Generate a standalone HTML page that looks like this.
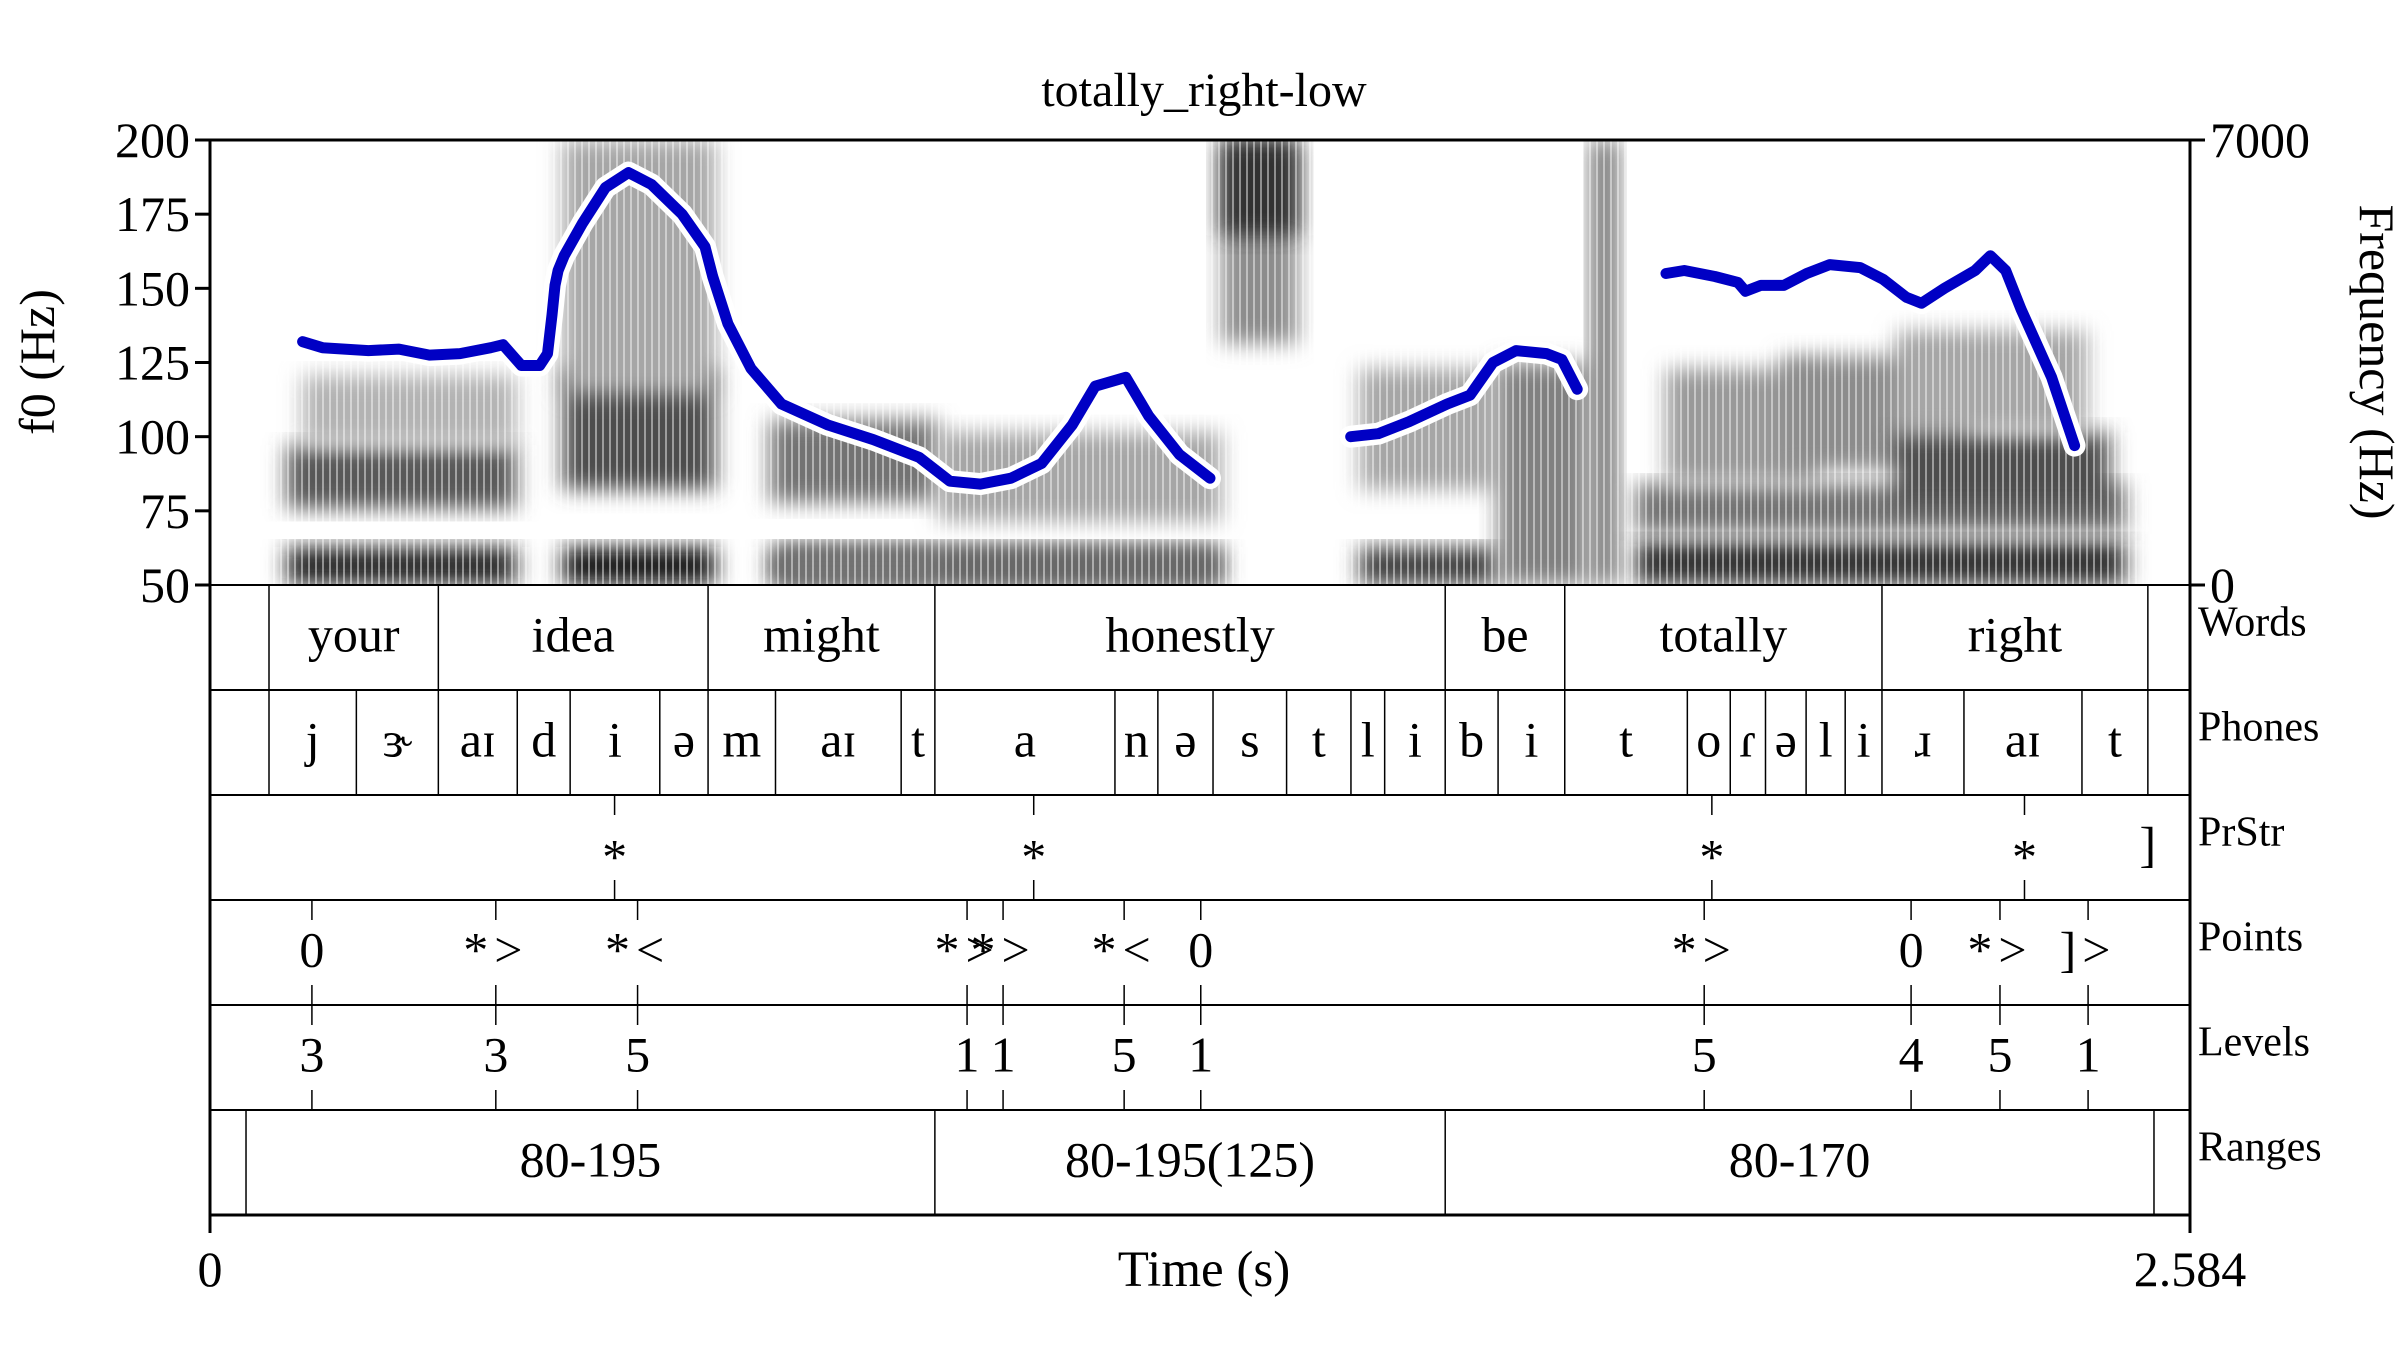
<!DOCTYPE html>
<html><head><meta charset="utf-8"><style>
html,body{margin:0;padding:0;background:#fff}
svg{display:block}
text{font-family:"Liberation Serif","DejaVu Serif",serif;fill:#000}
</style></head><body>
<svg id="chart" width="2400" height="1356" viewBox="0 0 2400 1356" xmlns="http://www.w3.org/2000/svg">
<defs>
<filter id="blur" x="-20%" y="-20%" width="140%" height="140%"><feGaussianBlur stdDeviation="11"/></filter>
<pattern id="stripes" width="7" height="10" patternUnits="userSpaceOnUse"><rect width="2" height="10" fill="#fff" opacity="0.45"/></pattern>
<clipPath id="specclip"><rect x="210" y="140" width="1980" height="445"/></clipPath>
</defs>
<g id="spec" clip-path="url(#specclip)"></g>
<g id="f0"></g>
<g id="tiers"></g>
<g id="axes"></g>
</svg>
<script>
// ---- data ----
const tMax = 2.584;
const f0Min = 50, f0Max = 200;
const f0Ticks = [50, 75, 100, 125, 150, 175, 200];
const f0SegTimes = [
 [0.1208,0.1468,0.2067,0.2466,0.2864,0.3262,0.3665,0.3824,0.4064,0.4303,0.4404,0.4463,0.4503,0.4543,0.4623,0.4863,0.5162,0.5462,0.5762,0.6161,0.646,0.656,0.676,0.7059,0.7459,0.8057,0.8657,0.9256,0.9656,1.0054,1.0454,1.0853,1.1253,1.1552,1.1952,1.2251,1.2651,1.305],
 [1.4887,1.5245,1.5646,1.6146,1.6445,1.6744,1.7044,1.7443,1.7643,1.7842],
 [1.9001,1.9241,1.9640,1.9940,2.0039,2.0239,2.0539,2.0838,2.1138,2.1537,2.1836,2.2136,2.2336,2.2636,2.3036,2.3235,2.3435,2.3634,2.4034,2.4334]
];
const f0SegValues = [
 [132,130,129,129.5,127.5,128,130,131,124,124,128,141,151,156,161,172,184,189,185,175,164,154,138,123,111,104,99,93,85,84,86,91,104,117,120,107,94,86],
 [100,101,105,111,114,125,129,128,126,116],
 [155,156,154,152,149,151,151,155,158,157,153,147,145,150,156,161,156,143,120,97]
];
const wordBounds = [0.077,0.298,0.650,0.946,1.612,1.768,2.182,2.529];
const wordLabels = ["your","idea","might","honestly","be","totally","right"];
const phoneBounds = [0.077,0.191,0.298,0.401,0.470,0.587,0.650,0.738,0.902,0.946,1.181,1.237,1.309,1.405,1.489,1.533,1.612,1.681,1.768,1.928,1.984,2.030,2.083,2.134,2.182,2.289,2.443,2.529];
const phoneLabels = ["j","ɝ","aɪ","d","i","ə","m","aɪ","t","a","n","ə","s","t","l","i","b","i","t","o","ɾ","ə","l","i","ɹ","aɪ","t"];
const prStrTimes = [0.528,1.075,1.960,2.368,2.529];
const prStrLabels = ["*","*","*","*","]"];
const pointTimes = [0.133,0.373,0.558,0.988,1.035,1.193,1.293,1.950,2.220,2.336,2.451];
const pointLabels = ["0","*>","*<","*>","*>","*<","0","*>","0","*>","]>"];
const levelLabels = ["3","3","5","1","1","5","1","5","4","5","1"];
const rangeBounds = [0.047,0.946,1.612,2.537];
const rangeLabels = ["80-195","80-195(125)","80-170"];
const tierNames = ["Words","Phones","PrStr","Points","Levels","Ranges"];
// spectrogram energy blobs: [t0, t1, f0 (kHz), f1 (kHz), darkness]
const specT0 = [0.10,0.10,0.12,0.46,0.46,0.46,0.73,0.73,0.74,0.95,0.95,1.32,1.32,1.50,1.50,1.68,1.80,1.86,1.86,1.90,2.05,2.20,2.20];
const specT1 = [0.40,0.40,0.40,0.66,0.66,0.66,0.95,0.95,1.32,1.32,1.32,1.42,1.42,1.68,1.68,1.80,1.84,2.50,2.50,2.10,2.30,2.48,2.45];
const specF0 = [0.0,1.2,2.2,0.0,1.5,3.0,0.0,1.3,0.0,0.0,1.0,3.8,5.5,0.0,1.5,0.0,0.0,0.0,0.8,1.6,1.8,1.2,2.4];
const specF1 = [0.6,2.2,3.3,0.6,3.4,7.0,0.6,2.6,0.6,0.6,2.4,7.0,7.0,0.6,3.4,3.5,7.0,0.7,1.6,3.4,3.6,2.4,4.0];
const specD = [0.85,0.65,0.3,0.9,0.7,0.35,0.7,0.55,0.55,0.6,0.35,0.45,0.8,0.75,0.35,0.5,0.5,0.8,0.55,0.4,0.45,0.7,0.35];

// ---- geometry ----
const L=210,R=2190,T=140,SB=585,rowH=105;
const xS = t => L + (t/tMax)*(R-L);
const yF = f => SB - (f-f0Min)/(f0Max-f0Min)*(SB-T);
const yK = k => SB - (k/7)*(SB-T);
const NS="http://www.w3.org/2000/svg";
function mk(tag, attrs, parent, txt){
  const e=document.createElementNS(NS,tag);
  for(const k in attrs) e.setAttribute(k,attrs[k]);
  if(txt!==undefined) e.textContent=txt;
  parent.appendChild(e); return e;
}
const spec=document.getElementById('spec');
const f0g=document.getElementById('f0');
const tiers=document.getElementById('tiers');
const axes=document.getElementById('axes');

// spectrogram
for(let i=0;i<specT0.length;i++){
  const g=Math.round(255*(1-specD[i]));
  const r=mk('rect',{x:xS(specT0[i]),y:yK(specF1[i]),width:xS(specT1[i])-xS(specT0[i]),height:yK(specF0[i])-yK(specF1[i]),fill:`rgb(${g},${g},${g})`,filter:'url(#blur)'},spec);
  
  
}
mk('rect',{x:L,y:T,width:R-L,height:SB-T,fill:'url(#stripes)'},spec);

// f0 contour
for(let s=0;s<f0SegTimes.length;s++){
  const pts=f0SegTimes[s].map((t,i)=>xS(t).toFixed(1)+','+yF(f0SegValues[s][i]).toFixed(1)).join(' ');
  mk('polyline',{points:pts,fill:'none',stroke:'#fff','stroke-width':22,'stroke-linejoin':'round','stroke-linecap':'round'},f0g);
}
for(let s=0;s<f0SegTimes.length;s++){
  const pts=f0SegTimes[s].map((t,i)=>xS(t).toFixed(1)+','+yF(f0SegValues[s][i]).toFixed(1)).join(' ');
  const p=mk('polyline',{points:pts,fill:'none',stroke:'#0000c4','stroke-width':11,'stroke-linejoin':'round','stroke-linecap':'round'},f0g);
  
  
}

// tiers
const FS=50;
function rowTop(i){return SB+i*rowH;}
function intervalTier(idx,bounds,labels,name){
  const top=rowTop(idx), bot=top+rowH;
  bounds.forEach(b=>mk('line',{x1:xS(b),x2:xS(b),y1:top,y2:bot,stroke:'#000','stroke-width':1.5},tiers));
  labels.forEach((lb,i)=>{
    const t=mk('text',{x:(xS(bounds[i])+xS(bounds[i+1]))/2,y:top+rowH/2+14,'text-anchor':'middle','font-size':FS},tiers,lb);
    
    
  });
}
function pointTier(idx,times,labels,name){
  const top=rowTop(idx), bot=top+rowH;
  times.forEach((tm,i)=>{
    const x=xS(tm);
    if(labels[i]!=="]"){
      mk('line',{x1:x,x2:x,y1:top,y2:top+20,stroke:'#000','stroke-width':1.5},tiers);
      mk('line',{x1:x,x2:x,y1:bot-20,y2:bot,stroke:'#000','stroke-width':1.5},tiers);
    }
    const t=mk('text',{x:x,y:top+rowH/2+(labels[i]==="*"?26:14),'text-anchor':'middle','font-size':FS,'letter-spacing':labels[i].length>1?6:0},tiers,labels[i]);
    
    
  });
}
intervalTier(0,wordBounds,wordLabels,'word-label');
intervalTier(1,phoneBounds,phoneLabels,'phone-label');
pointTier(2,prStrTimes,prStrLabels,'prstr-label');
pointTier(3,pointTimes,pointLabels,'points-label');
pointTier(4,pointTimes,levelLabels,'levels-label');
intervalTier(5,rangeBounds,rangeLabels,'range-label');
for(let i=1;i<6;i++) mk('line',{x1:L,x2:R,y1:rowTop(i),y2:rowTop(i),stroke:'#000','stroke-width':2},tiers);
tierNames.forEach((n,i)=>{
  const t=mk('text',{x:R+8,y:rowTop(i)+rowH/2-2,'font-size':42},tiers,n);
  
  
});

// axes frame
mk('line',{x1:L,x2:R,y1:T,y2:T,stroke:'#000','stroke-width':3},axes);
mk('line',{x1:L,x2:R,y1:SB,y2:SB,stroke:'#000','stroke-width':2},axes);
mk('line',{x1:L,x2:R,y1:SB+6*rowH,y2:SB+6*rowH,stroke:'#000','stroke-width':3},axes);
mk('line',{x1:L,x2:L,y1:T,y2:SB+6*rowH+18,stroke:'#000','stroke-width':3},axes);
mk('line',{x1:R,x2:R,y1:T,y2:SB+6*rowH+18,stroke:'#000','stroke-width':3},axes);
f0Ticks.forEach(v=>{
  mk('line',{x1:L-15,x2:L,y1:yF(v),y2:yF(v),stroke:'#000','stroke-width':3},axes);
  const t=mk('text',{x:L-20,y:yF(v)+17,'text-anchor':'end','font-size':50},axes,String(v));
  
  
});
[[0,'0'],[7,'7000']].forEach(([k,lb])=>{
  mk('line',{x1:R,x2:R+15,y1:yK(k),y2:yK(k),stroke:'#000','stroke-width':3},axes);
  const t=mk('text',{x:R+20,y:yK(k)+17,'font-size':50},axes,lb);
  
  
});
</script>
<svg style="position:absolute;left:0;top:0" width="2400" height="1356" viewBox="0 0 2400 1356" xmlns="http://www.w3.org/2000/svg">
<text x="1204" y="106" text-anchor="middle" font-size="48">totally_right-low</text>
<text transform="translate(54,362) rotate(-90)" text-anchor="middle" font-size="50">f0 (Hz)</text>
<text transform="translate(2360,362) rotate(90)" text-anchor="middle" font-size="50">Frequency (Hz)</text>
<text x="210" y="1286" text-anchor="middle" font-size="50">0</text>
<text x="1204" y="1286" text-anchor="middle" font-size="51">Time (s)</text>
<text x="2190" y="1286" text-anchor="middle" font-size="50">2.584</text>
</svg>
</body></html>
